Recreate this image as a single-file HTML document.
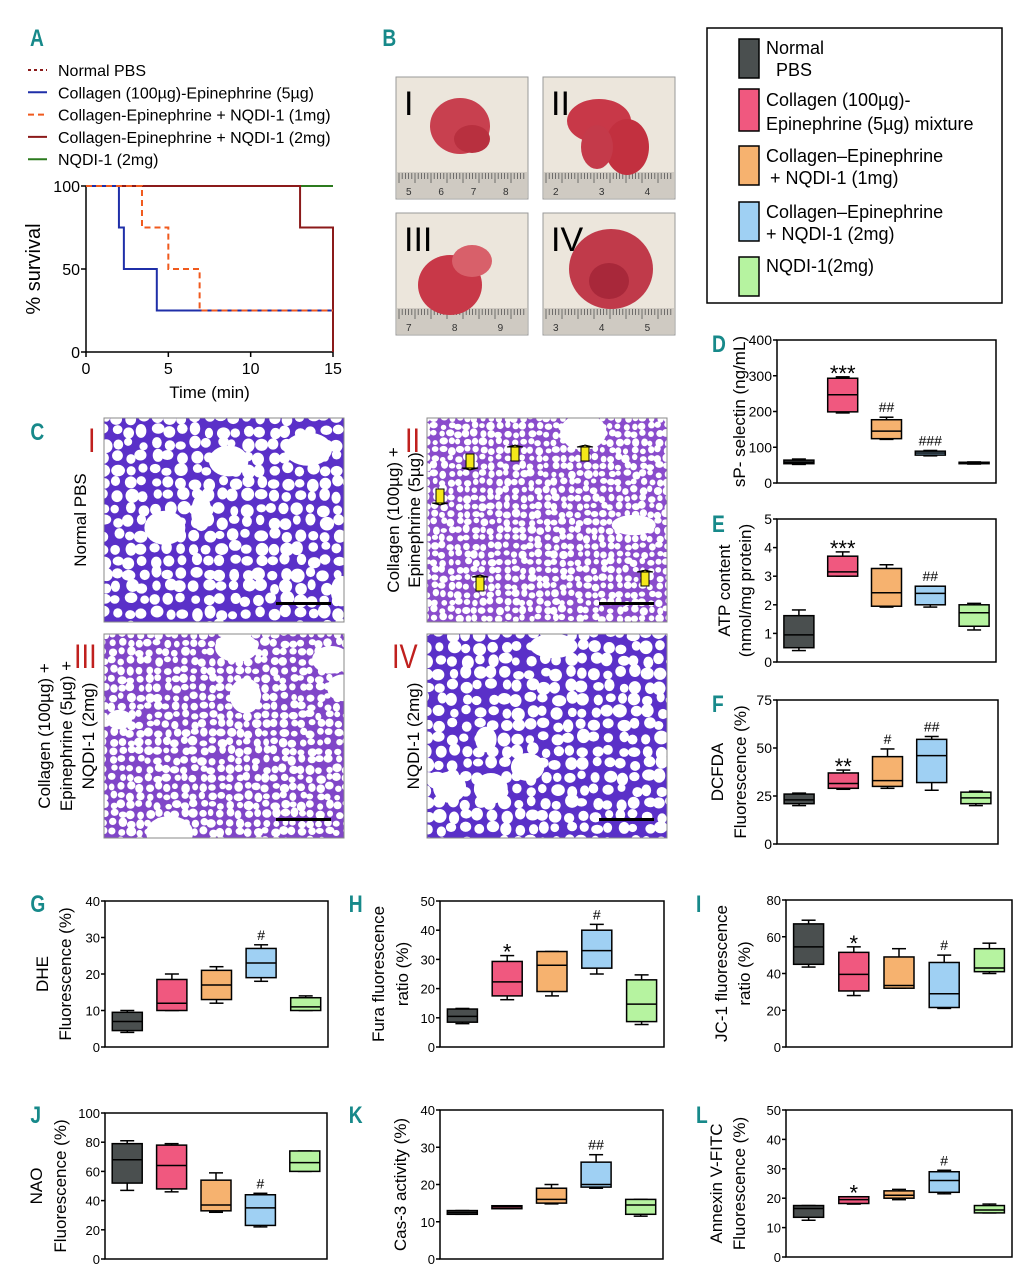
<!DOCTYPE html>
<html><head><meta charset="utf-8"><style>
html,body{margin:0;padding:0;background:#fff;}
svg{display:block;font-family:"Liberation Sans",sans-serif;}
.pl{font-family:"Liberation Sans",sans-serif;font-weight:bold;fill:#17898a;font-size:24px;}
</style></head><body>
<svg id="fig" width="1016" height="1280" viewBox="0 0 1016 1280">
<g id="labels">
<text class="pl" x="30" y="46" transform="scale(0.8,1) translate(7.5,0)">A</text>
<text class="pl" x="478" y="46" transform="scale(0.8,1)">B</text>
<text class="pl" x="38" y="440" transform="scale(0.8,1)">C</text>
<text class="pl" x="890" y="352" transform="scale(0.8,1)">D</text>
<text class="pl" x="890" y="532" transform="scale(0.8,1)">E</text>
<text class="pl" x="890" y="712" transform="scale(0.8,1)">F</text>
<text class="pl" x="38" y="912" transform="scale(0.8,1)">G</text>
<text class="pl" x="436" y="912" transform="scale(0.8,1)">H</text>
<text class="pl" x="870" y="912" transform="scale(0.8,1)">I</text>
<text class="pl" x="38" y="1123" transform="scale(0.8,1)">J</text>
<text class="pl" x="436" y="1123" transform="scale(0.8,1)">K</text>
<text class="pl" x="870" y="1123" transform="scale(0.8,1)">L</text>
</g>
<g>
<rect x="707" y="28" width="295" height="275" fill="none" stroke="#000" stroke-width="1.5"/>
<rect x="739" y="39" width="20" height="39" fill="#4a4f4f" stroke="#000" stroke-width="1.5"/>
<text x="766" y="54" font-size="18">Normal</text><text x="776" y="76" font-size="18">PBS</text>
<rect x="739" y="89" width="20" height="42" fill="#f0587f" stroke="#000" stroke-width="1.5"/>
<text x="766" y="106" font-size="18">Collagen (100µg)-</text><text x="766" y="130" font-size="18">Epinephrine (5µg) mixture</text>
<rect x="739" y="146" width="20" height="39" fill="#f6b26f" stroke="#000" stroke-width="1.5"/>
<text x="766" y="162" font-size="18">Collagen–Epinephrine</text><text x="770" y="184" font-size="18">+ NQDI-1 (1mg)</text>
<rect x="739" y="202" width="20" height="39" fill="#9fd0f3" stroke="#000" stroke-width="1.5"/>
<text x="766" y="218" font-size="18">Collagen–Epinephrine</text><text x="766" y="240" font-size="18">+ NQDI-1 (2mg)</text>
<rect x="739" y="257" width="20" height="39" fill="#b6f3a0" stroke="#000" stroke-width="1.5"/>
<text x="766" y="272" font-size="18">NQDI-1(2mg)</text>
</g>
<g id="photos"></g>
<g id="histo"></g>
<g id="surv"></g>
<g id="boxes"></g>
</svg>
<script>
// ===== Survival data (panel A) =====
const survTimes = {
  blue:   [0, 2, 2.3, 4.3, 15],
  orange: [0, 3.4, 5, 6.9, 15],
  red:    [0, 13, 15, 15],
  green:  [0, 15]
};
const survBlue = [100, 75, 50, 25, 25];
const survOrange = [100, 75, 50, 25, 25];
const survRed = [100, 75, 75, 0];
const survGreen = [100, 100];
const survXTicks = [0, 5, 10, 15];
const survYTicks = [0, 50, 100];
const survLegend = ["Normal PBS","Collagen (100µg)-Epinephrine (5µg)","Collagen-Epinephrine + NQDI-1 (1mg)","Collagen-Epinephrine + NQDI-1 (2mg)","NQDI-1 (2mg)"];

// ===== Box plot data: [min, q1, median, q3, max] per group =====
const groups = ["Normal PBS","Collagen-Epinephrine","CE + NQDI-1 1mg","CE + NQDI-1 2mg","NQDI-1 2mg"];
const dSelectin = [[52,54,58,64,67],[196,199,247,293,297],[122,124,145,177,184],[76,78,84,89,91],[53,54,56,58,59]];
const eATP = [[0.4,0.5,0.95,1.62,1.82],[3.0,3.0,3.15,3.7,3.85],[1.92,1.95,2.42,3.27,3.4],[1.92,2.0,2.4,2.65,2.65],[1.12,1.25,1.72,2.0,2.05]];
const fDCFDA = [[20,21,23,26,26.5],[28.5,29,31.5,37,38.5],[29,30,33,45.5,49.5],[28,32,46,54.5,56],[20,21,24,27,27.5]];
const gDHE = [[4,4.5,7,9.5,10],[10,10,12,18.5,20],[12,13,17,21,22],[18,19,23,27,28],[10,10,11,13.5,14]];
const hFura = [[8,8.5,10.5,13,13.2],[16.2,17.5,22.3,29.3,31.3],[17.5,19,28,32.7,32.7],[25,27,33,40,42],[7.7,8.7,14.7,23,24.7]];
const iJC1 = [[43.5,45,54.5,67,69],[28,30.5,39.5,51.5,54.5],[32,32,33.5,49,53.5],[21,21.5,29,46,50],[40,41,43,53.5,56.5]];
const jNAO = [[47,52,68,79,81],[46,48,64,78,79],[32,33,37,54,59],[22,23,35,44,45],[60,60,66,74,74]];
const kCas3 = [[12,12,12.5,13,13],[13.5,13.5,14,14.3,14.3],[14.8,15,16,19,20],[19,19.3,20,26,28],[11.5,12,14.5,16,16]];
const lAnnexin = [[12.5,13.5,16.5,17.5,17.5],[18,18.2,19.5,20.5,20.5],[19.5,20,21,22.5,23],[21.5,22,26,29,29.5],[15,15,16,17.5,18]];
const dSig = ["","***","##","###",""];
const eSig = ["","***","","##",""];
const fSig = ["","**","#","##",""];
const gSig = ["","","","#",""];
const hSig = ["","*","","#",""];
const iSig = ["","*","","#",""];
const jSig = ["","","","#",""];
const kSig = ["","","","##",""];
const lSig = ["","*","","#",""];
const dTicks=[0,100,200,300,400], eTicks=[0,1,2,3,4,5], fTicks=[0,25,50,75];
const gTicks=[0,10,20,30,40], hTicks=[0,10,20,30,40,50], iTicks=[0,20,40,60,80];
const jTicks=[0,20,40,60,80,100], kTicks=[0,10,20,30,40], lTicks=[0,10,20,30,40,50];

const NS="http://www.w3.org/2000/svg";
function mk(parent, tag, attrs, text){
  const e=document.createElementNS(NS,tag);
  for(const k in attrs) e.setAttribute(k, attrs[k]);
  if(text!==undefined) e.textContent=text;
  parent.appendChild(e); return e;
}
const boxColors=["#4a4f4f","#f0587f","#f6b26f","#9fd0f3","#b6f3a0"];

// ===== Survival chart =====
(function(){
  const g=document.getElementById('surv');
  const X0=86,X1=333,Y0=352,Y1=186;
  const sx=t=>X0+(X1-X0)*t/15, sy=v=>Y0-(Y0-Y1)*v/100;
  const lc=["#8b1a1a","#1f2fa8","#f05a1e","#8b1a1a","#2c7a1e"];
  const ld=["3,3","","6,4","",""];
  survLegend.forEach((s,i)=>{
    const y=70+i*22.3;
    const ln=mk(g,'line',{x1:28,x2:47,y1:y,y2:y,stroke:lc[i],'stroke-width':2,'stroke-dasharray':ld[i]});
    
    
    const t=mk(g,'text',{x:58,y:y+6,'font-size':16},s);
    
    
  });
  const ax=mk(g,'path',{d:`M${X0},${Y1} V${Y0} H${X1}`,fill:'none',stroke:'#000','stroke-width':1.5});
  
  
  survXTicks.forEach(t=>{
    mk(g,'line',{x1:sx(t),x2:sx(t),y1:Y0,y2:Y0+5,stroke:'#000','stroke-width':1.5});
    const tx=mk(g,'text',{x:sx(t),y:Y0+22,'font-size':16,'text-anchor':'middle'},t);
    
    
  });
  survYTicks.forEach(v=>{
    mk(g,'line',{x1:X0-5,x2:X0,y1:sy(v),y2:sy(v),stroke:'#000','stroke-width':1.5});
    const tx=mk(g,'text',{x:X0-6,y:sy(v)+6,'font-size':16,'text-anchor':'end'},v);
    
    
  });
  const xt=mk(g,'text',{x:(X0+X1)/2,y:398,'font-size':17,'text-anchor':'middle'},'Time (min)');
  
  
  const yt=mk(g,'text',{x:0,y:0,'font-size':20,'text-anchor':'middle',transform:`translate(40,${(Y0+Y1)/2}) rotate(-90)`},'% survival');
  
  
  function step(ts,vs,col,dash,name){
    let d=`M${sx(ts[0])},${sy(vs[0])}`;
    for(let i=1;i<ts.length;i++){ d+=` H${sx(ts[i])} V${sy(vs[i])}`; }
    const p=mk(g,'path',{d,fill:'none',stroke:col,'stroke-width':2,'stroke-dasharray':dash});
    
    
  }
  step(survTimes.green,survGreen,"#2c7a1e","","survival-line-nqdi");
  step(survTimes.red,survRed,"#8b1a1a","","survival-line-nqdi-2mg");
  step(survTimes.blue,survBlue,"#1f2fa8","","survival-line-collagen");
  step(survTimes.orange,survOrange,"#f05a1e","6,4","survival-line-nqdi-1mg");
})();

// ===== Box plots =====
function boxPanel(name, rect, ticks, data, sig, titles, titleX, fs){
  const g=mk(document.getElementById('boxes'),'g',{});
  
  
  const [x0,y0,x1,y1]=rect;
  const ymax=ticks[ticks.length-1];
  const sy=v=>y1-(y1-y0)*v/ymax;
  const bw=(x1-x0)/5;
  const fr=mk(g,'rect',{x:x0,y:y0,width:x1-x0,height:y1-y0,fill:'none',stroke:'#000','stroke-width':1.5});
  
  
  ticks.forEach(v=>{
    mk(g,'line',{x1:x0-4,x2:x0,y1:sy(v),y2:sy(v),stroke:'#000','stroke-width':1.5});
    const t=mk(g,'text',{x:x0-5,y:sy(v)+5,'font-size':fs,'text-anchor':'end'},v);
    
    
  });
  data.forEach((d,i)=>{
    const cx=x0+bw*(i+0.5), w=30, cw=14;
    const [mn,q1,md,q3,mx]=d;
    mk(g,'line',{x1:cx,x2:cx,y1:sy(mx),y2:sy(q3),stroke:'#000','stroke-width':1.5});
    mk(g,'line',{x1:cx,x2:cx,y1:sy(q1),y2:sy(mn),stroke:'#000','stroke-width':1.5});
    mk(g,'line',{x1:cx-cw/2,x2:cx+cw/2,y1:sy(mx),y2:sy(mx),stroke:'#000','stroke-width':1.5});
    mk(g,'line',{x1:cx-cw/2,x2:cx+cw/2,y1:sy(mn),y2:sy(mn),stroke:'#000','stroke-width':1.5});
    const b=mk(g,'rect',{x:cx-w/2,y:sy(q3),width:w,height:Math.max(1,sy(q1)-sy(q3)),fill:boxColors[i],stroke:'#000','stroke-width':1.5});
    
    
    mk(g,'line',{x1:cx-w/2,x2:cx+w/2,y1:sy(md),y2:sy(md),stroke:'#000','stroke-width':1.5});
    if(sig[i]){
      const star=sig[i][0]==='*';
      const s=mk(g,'text',{x:cx,y:sy(mx)-(star?-4:5),'font-size':star?22:14,'text-anchor':'middle'},sig[i]);
      
      
    }
  });
  const cy=(y0+y1)/2;
  titles.forEach((tt,k)=>{
    const t=mk(g,'text',{x:0,y:0,'font-size':17,'text-anchor':'middle',transform:`translate(${titleX[k]},${cy}) rotate(-90)`},tt);
    
    
  });
}
boxPanel('panel-d-selectin',[777,340,996,483],dTicks,dSelectin,dSig,["sP- selectin (ng/mL)"],[745],14);
boxPanel('panel-e-atp',[777,519,996,662],eTicks,eATP,eSig,["ATP content","(nmol/mg protein)"],[730,751],14);
boxPanel('panel-f-dcfda',[777,700,998,844],fTicks,fDCFDA,fSig,["DCFDA","Fluorescence (%)"],[723,746],14);
boxPanel('panel-g-dhe',[105,901,328,1047],gTicks,gDHE,gSig,["DHE","Fluorescence (%)"],[48,71],13);
boxPanel('panel-h-fura',[440,901,664,1047],hTicks,hFura,hSig,["Fura fluorescence","ratio (%)"],[384,408],13);
boxPanel('panel-i-jc1',[786,900,1012,1047],iTicks,iJC1,iSig,["JC-1 fluorescence","ratio (%)"],[727,750],13);
boxPanel('panel-j-nao',[105,1113,327,1259],jTicks,jNAO,jSig,["NAO","Fluorescence (%)"],[42,66],13);
boxPanel('panel-k-cas3',[440,1110,663,1259],kTicks,kCas3,kSig,["Cas-3 activity (%)"],[406],13);
boxPanel('panel-l-annexin',[786,1110,1012,1257],lTicks,lAnnexin,lSig,["Annexin V-FITC","Fluorescence (%)"],[722,745],13);

// ===== Lung photos (panel B) =====
(function(){
  const g=document.getElementById('photos');
  const P=[[396,77,"I",["5","6","7","8"]],[543,77,"II",["2","3","4"]],[396,213,"III",["7","8","9"]],[543,213,"IV",["3","4","5"]]];
  P.forEach(([x,y,lab,nums],k)=>{
    const sg=mk(g,'g',{});
    
    
    mk(sg,'rect',{x,y,width:132,height:122,fill:'#ece6dc',stroke:'#999','stroke-width':1});
    mk(sg,'rect',{x:x+1,y:y+95,width:130,height:26,fill:'#cfcac2'});
    for(let i=0;i<40;i++){ mk(sg,'line',{x1:x+3+i*3.2,x2:x+3+i*3.2,y1:y+96,y2:y+96+(i%5===0?10:6),stroke:'#555','stroke-width':0.8}); }
    nums.forEach((n,i)=>mk(sg,'text',{x:x+10+i*(110/(nums.length-0.6)),y:y+118,'font-size':10,fill:'#333'},n));
    const cx=x+66, cy=y+52;
    if(k===0){ mk(sg,'ellipse',{cx:cx-2,cy:cy-3,rx:30,ry:28,fill:'#c8404f'}); mk(sg,'ellipse',{cx:cx+10,cy:cy+10,rx:18,ry:14,fill:'#b8303f'}); }
    if(k===1){ mk(sg,'ellipse',{cx:cx-10,cy:cy-8,rx:32,ry:22,fill:'#c83848'}); mk(sg,'ellipse',{cx:cx+18,cy:cy+18,rx:22,ry:28,fill:'#c2303f'}); mk(sg,'ellipse',{cx:cx-12,cy:cy+18,rx:16,ry:22,fill:'#c43a4a'}); }
    if(k===2){ mk(sg,'ellipse',{cx:cx-12,cy:cy+20,rx:32,ry:30,fill:'#c83848'}); mk(sg,'ellipse',{cx:cx+10,cy:cy-4,rx:20,ry:16,fill:'#d8606a'}); }
    if(k===3){ mk(sg,'ellipse',{cx:cx+2,cy:cy+4,rx:42,ry:40,fill:'#c03a4a'}); mk(sg,'ellipse',{cx:cx,cy:cy+16,rx:20,ry:18,fill:'#a8283a'}); }
    const t=mk(sg,'text',{x:x+8,y:y+38,'font-size':34},lab);
    
    
  });
})();

// ===== Histology (panel C) =====
(function(){
  const g=document.getElementById('histo');
  let seed=7; const rnd=()=>{seed=(seed*16807)%2147483647;return seed/2147483647;};
  const P=[[104,418,"I",13,'#5a30c8',5],[427,418,"II",8,'#8a4ccc',2],[104,634,"III",9,'#8046c8',6],[427,634,"IV",13,'#5a30c8',6]];
  P.forEach(([x,y,lab,sp,col,big])=>{
    const sg=mk(g,'g',{});
    
    
    const W=240,H=204;
    const cp=mk(sg,'clipPath',{id:'cp'+lab}); mk(cp,'rect',{x,y,width:W,height:H});
    const inner=mk(sg,'g',{'clip-path':`url(#cp${lab})`});
    mk(inner,'rect',{x,y,width:W,height:H,fill:col});
    for(let gy=0;gy<H+sp;gy+=sp){
      for(let gx=0;gx<W+sp;gx+=sp){
        const r=sp*(0.33+rnd()*0.14);
        mk(inner,'ellipse',{cx:x+gx+(rnd()-0.5)*sp*0.4,cy:y+gy+(rnd()-0.5)*sp*0.4,rx:r*(0.9+rnd()*0.3),ry:r*(0.9+rnd()*0.3),fill:'#fff'});
      }
    }
    for(let i=0;i<big;i++){
      mk(inner,'ellipse',{cx:x+rnd()*W,cy:y+rnd()*H,rx:10+rnd()*14,ry:8+rnd()*12,fill:'#fff'});
    }
    mk(sg,'rect',{x,y,width:W,height:H,fill:'none',stroke:'#888','stroke-width':1});
    mk(sg,'rect',{x:x+W-68,y:y+H-20,width:55,height:3,fill:'#000'});
  });
  const rl=[[88,452,"I"],[405,452,"II"],[74,668,"III"],[392,668,"IV"]];
  rl.forEach(([x,y,t])=>{const e=mk(g,'text',{x,y,'font-size':34,fill:'#c0201e',transform:`translate(${x},${y}) scale(0.8,1) translate(${-x},${-y})`},t);
    
    });
  const tl=[[[ "Normal PBS"],[80],520],[["Collagen (100µg) +","Epinephrine (5µg)"],[393,414],520],[["Collagen (100µg) +","Epinephrine (5µg) +","NQDI-1 (2mg)"],[44,66,88],736],[["NQDI-1 (2mg)"],[413],736]];
  tl.forEach(([lines,xs,cy])=>lines.forEach((s,i)=>{const e=mk(g,'text',{x:0,y:0,'font-size':17,'text-anchor':'middle',transform:`translate(${xs[i]+6},${cy}) rotate(-90)`},s);
    
    }));
  [[470,470,1],[515,445,-1],[440,505,1],[585,445,-1],[480,575,-1],[645,570,-1]].forEach(([ax,ay,d])=>{
    mk(g,'path',{d:`M${ax},${ay} l-4,${-d*2} l0,${-d*14} l8,0 l0,${d*14} z M${ax},${ay} l-8,${-d*2} l16,0 z`,fill:'#f4e81a',stroke:'#000','stroke-width':1});
  });
})();
</script>
</body></html>
